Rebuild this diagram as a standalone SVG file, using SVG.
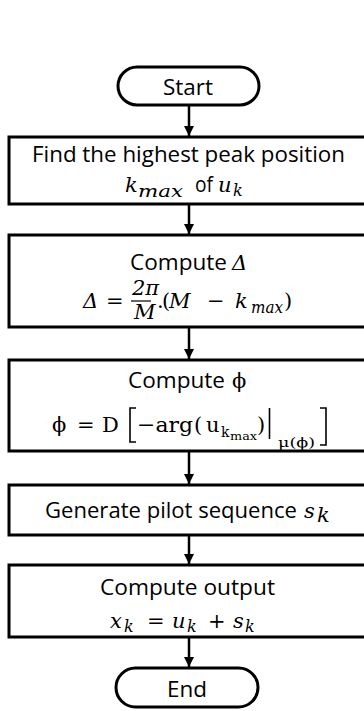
<svg xmlns="http://www.w3.org/2000/svg" width="364" height="711" viewBox="0 0 364 711">
<style>
.shape{fill:#fff;stroke:#000;stroke-width:3}
.sans{font-family:"Open Sans","Noto Sans","Liberation Sans",sans-serif;font-size:21px;fill:#000}
.m{font-family:"DejaVu Serif","Liberation Serif",serif;font-style:italic;font-size:21px;fill:#000}
.r{font-family:"DejaVu Serif","Liberation Serif",serif;font-style:normal;font-size:21px;fill:#000}
.conn{stroke:#000;stroke-width:2.5;fill:none}
</style>
<defs>
<marker id="ah" viewBox="0 0 10 10" refX="10" refY="5" markerWidth="10" markerHeight="10" markerUnits="userSpaceOnUse" orient="auto"><path d="M0,0 L10,5 L0,10 z" fill="#000"/></marker>
</defs>
<rect width="364" height="711" fill="#fff"/>
<g id="connectors">
<path class="conn" d="M189,105 V136" marker-end="url(#ah)"/>
<path class="conn" d="M189,204 V234" marker-end="url(#ah)"/>
<path class="conn" d="M189,327 V359" marker-end="url(#ah)"/>
<path class="conn" d="M189,451 V484" marker-end="url(#ah)"/>
<path class="conn" d="M189,535 V564" marker-end="url(#ah)"/>
<path class="conn" d="M189,637 V667" marker-end="url(#ah)"/>
</g>
<g id="start">
<rect class="shape" x="118" y="67" width="141" height="38" rx="19"/>
<text class="sans" x="163" y="95" textLength="50" lengthAdjust="spacingAndGlyphs">Start</text>
</g>
<g id="find-peak">
<rect class="shape" x="9" y="137" width="360" height="67"/>
<text class="sans" x="32" y="162" textLength="313" lengthAdjust="spacingAndGlyphs">Find the highest peak position</text>
<text class="m" y="192"><tspan x="125">k</tspan><tspan x="138" dy="5" font-size="17" textLength="45" lengthAdjust="spacingAndGlyphs">max</tspan><tspan class="sans" font-style="normal" x="195" dy="-5" textLength="18" lengthAdjust="spacingAndGlyphs">of</tspan><tspan x="218">u</tspan><tspan x="233" dy="4" font-size="16">k</tspan></text>
</g>
<g id="compute-delta">
<rect class="shape" x="9" y="235" width="360" height="92"/>
<text class="sans" y="270"><tspan x="130" textLength="97" lengthAdjust="spacingAndGlyphs">Compute</tspan><tspan class="m" x="232">Δ</tspan></text>
<text class="m" y="308"><tspan x="83">Δ</tspan><tspan class="r" x="106">=</tspan></text>
<text class="m" x="132" y="295" font-size="14">2π</text>
<line x1="131" y1="301" x2="151" y2="301" stroke="#000" stroke-width="1.2"/>
<text class="m" x="134" y="319" font-size="14">M</text>
<text class="m" y="308"><tspan class="r" x="157">.</tspan><tspan class="r" x="162">(</tspan><tspan x="169">M</tspan><tspan class="r" x="207">−</tspan><tspan x="235">k</tspan><tspan x="251" dy="5" font-size="16" textLength="32" lengthAdjust="spacingAndGlyphs">max</tspan><tspan class="r" x="284" dy="-5">)</tspan></text>
</g>
<g id="compute-phi">
<rect class="shape" x="9" y="360" width="360" height="91"/>
<text class="sans" y="388"><tspan x="128" textLength="97" lengthAdjust="spacingAndGlyphs">Compute</tspan><tspan class="r" x="232" font-size="20">ϕ</tspan></text>
<text class="r" y="432"><tspan x="52">ϕ</tspan><tspan x="77">=</tspan><tspan x="102">D</tspan><tspan x="137" textLength="56" lengthAdjust="spacingAndGlyphs">−arg</tspan><tspan x="194">(</tspan><tspan x="206">u</tspan><tspan x="221" dy="5" font-size="14">k</tspan><tspan x="230" dy="3" font-size="11" textLength="27" lengthAdjust="spacingAndGlyphs">max</tspan><tspan x="257" dy="-8">)</tspan><tspan x="278" dy="15" font-size="13" textLength="37" lengthAdjust="spacingAndGlyphs">μ(ϕ)</tspan></text>
<path d="M136,408 H130 V442 H136" fill="none" stroke="#000" stroke-width="1.6"/>
<line x1="269.5" y1="408" x2="269.5" y2="439" stroke="#000" stroke-width="1.6"/>
<path d="M320,408 H326 V445 H320" fill="none" stroke="#000" stroke-width="1.6"/>
</g>
<g id="generate-pilot">
<rect class="shape" x="9" y="485" width="360" height="50"/>
<text class="sans" y="518"><tspan x="45" textLength="252" lengthAdjust="spacingAndGlyphs">Generate pilot sequence</tspan><tspan class="m" x="304">s</tspan><tspan class="m" x="317" dy="4" font-size="16">k</tspan></text>
</g>
<g id="compute-output">
<rect class="shape" x="9" y="565" width="360" height="72"/>
<text class="sans" x="100" y="595" textLength="175" lengthAdjust="spacingAndGlyphs">Compute output</text>
<text class="m" y="628"><tspan x="110">x</tspan><tspan x="124" dy="4" font-size="16">k</tspan><tspan class="r" x="147" dy="-4">=</tspan><tspan x="172">u</tspan><tspan x="187" dy="4" font-size="16">k</tspan><tspan class="r" x="208" dy="-4">+</tspan><tspan x="233">s</tspan><tspan x="245" dy="4" font-size="16">k</tspan></text>
</g>
<g id="end">
<rect class="shape" x="116" y="668" width="142" height="39" rx="19.5"/>
<text class="sans" x="167" y="697" textLength="40" lengthAdjust="spacingAndGlyphs">End</text>
</g>
</svg>
